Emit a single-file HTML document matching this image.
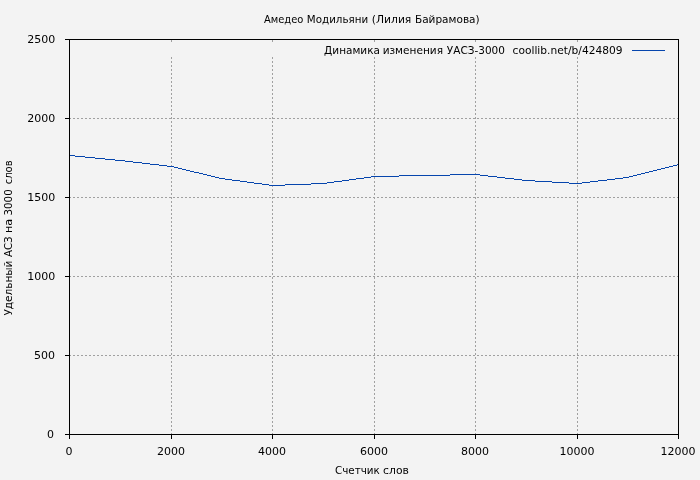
<!DOCTYPE html>
<html lang="ru"><head><meta charset="utf-8"><title>Амедео Модильяни (Лилия Байрамова)</title>
<style>html,body{margin:0;padding:0;background:#f3f3f3;overflow:hidden}svg{display:block;will-change:transform}text{font-family:"DejaVu Sans","Liberation Sans",sans-serif;font-size:11px;fill:#000;white-space:pre}</style></head><body>
<svg width="700" height="480" viewBox="0 0 700 480">
<rect width="700" height="480" fill="#f3f3f3"/>
<g stroke="#a0a0a0" stroke-width="1" stroke-dasharray="2 2" shape-rendering="crispEdges" fill="none">
<line x1="69" y1="355.5" x2="678" y2="355.5"/>
<line x1="69" y1="276.5" x2="678" y2="276.5"/>
<line x1="69" y1="197.5" x2="678" y2="197.5"/>
<line x1="69" y1="118.5" x2="678" y2="118.5"/>
<line x1="171.5" y1="435" x2="171.5" y2="57"/>
<line x1="171.5" y1="42" x2="171.5" y2="40"/>
<line x1="272.5" y1="435" x2="272.5" y2="57"/>
<line x1="272.5" y1="42" x2="272.5" y2="40"/>
<line x1="374.5" y1="435" x2="374.5" y2="57"/>
<line x1="374.5" y1="42" x2="374.5" y2="40"/>
<line x1="475.5" y1="435" x2="475.5" y2="57"/>
<line x1="475.5" y1="42" x2="475.5" y2="40"/>
<line x1="577.5" y1="435" x2="577.5" y2="57"/>
<line x1="577.5" y1="42" x2="577.5" y2="40"/>
</g>
<g stroke="#000" stroke-width="1" shape-rendering="crispEdges" fill="none">
<rect x="69.5" y="39.5" width="609" height="395"/>
<line x1="65" y1="434.5" x2="69" y2="434.5"/>
<line x1="65" y1="355.5" x2="69" y2="355.5"/>
<line x1="65" y1="276.5" x2="69" y2="276.5"/>
<line x1="65" y1="197.5" x2="69" y2="197.5"/>
<line x1="65" y1="118.5" x2="69" y2="118.5"/>
<line x1="65" y1="39.5" x2="69" y2="39.5"/>
<line x1="69.5" y1="434" x2="69.5" y2="439"/>
<line x1="171.5" y1="434" x2="171.5" y2="439"/>
<line x1="272.5" y1="434" x2="272.5" y2="439"/>
<line x1="374.5" y1="434" x2="374.5" y2="439"/>
<line x1="475.5" y1="434" x2="475.5" y2="439"/>
<line x1="577.5" y1="434" x2="577.5" y2="439"/>
<line x1="678.5" y1="434" x2="678.5" y2="439"/>
</g>
<path d="M70 155.5H75M75 156.5H85M85 157.5H95M95 158.5H105M105 159.5H115M115 160.5H125M125 161.5H133M133 162.5H142M142 163.5H150M150 164.5H159M159 165.5H167M167 166.5H174M174 167.5H178M178 168.5H182M182 169.5H186M186 170.5H190M190 171.5H194M194 172.5H199M199 173.5H203M203 174.5H207M207 175.5H211M211 176.5H215M215 177.5H219M219 178.5H225M225 179.5H232M232 180.5H240M240 181.5H247M247 182.5H254M254 183.5H262M262 184.5H269M269 185.5H285M285 184.5H311M311 183.5H327M327 182.5H334M334 181.5H342M342 180.5H349M349 179.5H356M356 178.5H364M364 177.5H371M371 176.5H399M399 175.5H450M450 174.5H480M480 175.5H488M488 176.5H497M497 177.5H505M505 178.5H514M514 179.5H522M522 180.5H535M535 181.5H552M552 182.5H569M569 183.5H582M582 182.5H590M590 181.5H598M598 180.5H607M607 179.5H615M615 178.5H623M623 177.5H629M629 176.5H633M633 175.5H637M637 174.5H641M641 173.5H645M645 172.5H649M649 171.5H653M653 170.5H657M657 169.5H661M661 168.5H665M665 167.5H669M669 166.5H673M673 165.5H677M677 164.5H678" stroke="#0645ad" stroke-width="1" fill="none" shape-rendering="crispEdges"/>
<line x1="632" y1="50.5" x2="665" y2="50.5" stroke="#0645ad" stroke-width="1" shape-rendering="crispEdges"/>
<text transform="translate(263.90,23) scale(0.9023,1)">Амедео</text>
<text transform="translate(306.86,23) scale(0.9370,1)">Модильяни</text>
<text transform="translate(371.72,23) scale(0.9792,1)">(Лилия</text>
<text transform="translate(414.94,23) scale(0.9567,1)">Байрамова)</text>
<text transform="translate(324.12,54) scale(0.9544,1)">Динамика</text>
<text transform="translate(382.64,54) scale(0.9590,1)">изменения</text>
<text transform="translate(446.86,54) scale(0.9533,1)">УАСЗ-3000</text>
<text transform="translate(512.52,54) scale(0.9689,1)">coollib.net/b/424809</text>
<text transform="translate(334.93,474) scale(0.9412,1)">Счетчик</text>
<text transform="translate(383.11,474) scale(0.9782,1)">слов</text>
<text transform="translate(12,315.54) rotate(-90) scale(0.9522,1)">Удельный</text>
<text transform="translate(12,257.10) rotate(-90) scale(0.9302,1)">АСЗ</text>
<text transform="translate(12,233.12) rotate(-90) scale(1.0250,1)">на</text>
<text transform="translate(12,215.45) rotate(-90) scale(0.9340,1)">3000</text>
<text transform="translate(12,184.25) rotate(-90) scale(0.9069,1)">слов</text>
<text x="54.1" y="438" text-anchor="end">0</text>
<text x="54.9" y="359" text-anchor="end">500</text>
<text x="55.2" y="280" text-anchor="end">1000</text>
<text x="55.2" y="201" text-anchor="end">1500</text>
<text x="55.2" y="122" text-anchor="end">2000</text>
<text x="55.2" y="43" text-anchor="end">2500</text>
<text x="69" y="455" text-anchor="middle">0</text>
<text x="171" y="455" text-anchor="middle">2000</text>
<text x="272" y="455" text-anchor="middle">4000</text>
<text x="374" y="455" text-anchor="middle">6000</text>
<text x="475" y="455" text-anchor="middle">8000</text>
<text x="577" y="455" text-anchor="middle">10000</text>
<text x="678" y="455" text-anchor="middle">12000</text>
</svg></body></html>
